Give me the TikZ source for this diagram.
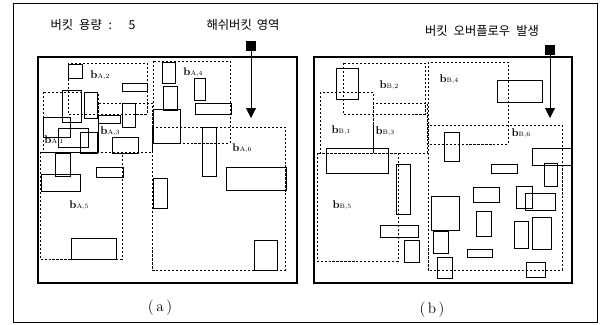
\documentclass[tikz,border=0pt]{standalone}
\usepackage{fontspec}
\newfontfamily\krfont{Noto Sans CJK KR}
\usetikzlibrary{arrows.meta}

\newcommand{\bname}[2]{\textbf{b}{\fontsize{5.5}{6}\selectfont #1,#2}}

\begin{document}
\begin{tikzpicture}[
    x=0.3mm, y=-0.3mm,
    outer/.style={draw, line width=0.7pt},
    panel/.style={draw, line width=1.4pt},
    rgn/.style={draw, line width=0.6pt, dash pattern=on 1.8pt off 1.6pt},
    blk/.style={draw, line width=0.8pt},
    lbl/.style={font=\fontsize{9.5}{10}\selectfont, inner sep=0pt},
    title/.style={font=\krfont\fontsize{10.5}{12}\selectfont, inner sep=0pt},
    caption/.style={font=\fontsize{13}{14}\selectfont, inner sep=0pt},
    marker/.style={fill=black, minimum size=3mm, inner sep=0pt},
    line/.style={-{Triangle[width=3mm,length=3mm]}, line width=0.7pt}
]
\useasboundingbox (0,0) rectangle (603,324);
\draw[outer] (13,3) rectangle (597,322);

% titles
\node[title] (cap) at (93,25) {버킷\hspace{1.8mm}용량\hspace{2mm}:\hspace{5mm}5};
\node[title] (hashtxt) at (243,25) {해쉬버킷\hspace{1.5mm}영역};
\node[title] (ovftxt) at (482,31) {버킷\hspace{1.8mm}오버플로우\hspace{1.8mm}발생};

% panel (a)
\draw[panel] (38,57) rectangle (297,283);
\draw[rgn] (68,63) rectangle (147,114);
\draw[rgn] (43,92) rectangle (98,152);
\draw[rgn] (98,103) rectangle (152,152);
\draw[rgn] (153,61) rectangle (230,143);
\draw[rgn] (40,152) rectangle (122,259);
\draw[rgn] (152,127) rectangle (285,270);

\draw[blk] (68,64) rectangle (82,78);
\draw[blk] (122,83) rectangle (147,91);
\draw[blk] (162,62) rectangle (175,83);
\draw[blk] (194,78) rectangle (205,100);
\draw[blk] (195,103) rectangle (231,114);
\draw[blk] (163,86) rectangle (177,110);
\draw[blk] (153,109) rectangle (180,143);
\draw[blk] (202,127) rectangle (216,176);
\draw[blk] (226,167) rectangle (286,190);
\draw[blk] (153,178) rectangle (167,208);
\draw[blk] (254,240) rectangle (277,270);
\draw[blk] (71,238) rectangle (116,259);
\draw[blk] (96,167) rectangle (123,177);
\draw[blk] (55,153) rectangle (70,176);
\draw[blk] (41,174) rectangle (80,191);
\draw[blk] (62,90) rectangle (81,122);
\draw[blk] (84,92) rectangle (97,118);
\draw[blk] (43,117) rectangle (70,137);
\draw[blk] (58,128) rectangle (88,147);
\draw[blk] (80,132) rectangle (97,153);
\draw[blk] (98,115) rectangle (120,123);
\draw[blk] (122,103) rectangle (135,127);
\draw[blk] (112,137) rectangle (138,153);

\node[lbl] (ba2) at (100,75) {\bname{A}{2}};
\node[lbl] (ba4) at (193,72) {\bname{A}{4}};
\node[lbl] (ba3) at (110,131) {\bname{A}{3}};
\node[lbl] (ba1) at (54,140) {\bname{A}{1}};
\node[lbl] (ba5) at (79,205) {\bname{A}{5}};
\node[lbl] (ba6) at (242,148) {\bname{A}{6}};

\node[marker] (sqa) at (251,46) {};
\coordinate (tipa) at (251,118);
\draw[line] (sqa) -- (tipa);
\node[caption] (capa) at (160,308) {(\,a\,)};

% panel (b)
\draw[panel] (314,57) rectangle (572,283);
\draw[rgn] (343,63) rectangle (425,114);
\draw[rgn] (320,92) rectangle (373,153);
\draw[rgn] (373,103) rectangle (427,153);
\draw[rgn] (428,62) rectangle (508,144);
\draw[rgn] (317,153) rectangle (398,261);
\draw[rgn] (428,125) rectangle (562,270);

\draw[blk] (336,68) rectangle (358,99);
\draw[blk] (497,80) rectangle (542,102);
\draw[blk] (326,148) rectangle (388,173);
\draw[blk] (396,164) rectangle (410,214);
\draw[blk] (444,132) rectangle (459,161);
\draw[blk] (532,148) rectangle (571,165);
\draw[blk] (544,163) rectangle (557,186);
\draw[blk] (491,164) rectangle (517,173);
\draw[blk] (473,187) rectangle (499,202);
\draw[blk] (516,186) rectangle (532,208);
\draw[blk] (525,193) rectangle (555,210);
\draw[blk] (431,196) rectangle (459,230);
\draw[blk] (476,211) rectangle (491,236);
\draw[blk] (532,217) rectangle (551,249);
\draw[blk] (514,221) rectangle (528,248);
\draw[blk] (433,231) rectangle (448,253);
\draw[blk] (467,249) rectangle (492,257);
\draw[blk] (437,257) rectangle (452,278);
\draw[blk] (526,262) rectangle (545,277);
\draw[blk] (380,225) rectangle (418,237);
\draw[blk] (404,240) rectangle (419,262);

\node[lbl] (bb2) at (389,85) {\bname{B}{2}};
\node[lbl] (bb4) at (449,79) {\bname{B}{4}};
\node[lbl] (bb1) at (341,130) {\bname{B}{1}};
\node[lbl] (bb3) at (385,131) {\bname{B}{3}};
\node[lbl] (bb6) at (521,133) {\bname{B}{6}};
\node[lbl] (bb5) at (342,205) {\bname{B}{5}};

\node[marker] (sqb) at (550,50) {};
\coordinate (tipb) at (550,118);
\draw[line] (sqb) -- (tipb);
\node[caption] (capb) at (432,310) {(\,b\,)};
\end{tikzpicture}
\end{document}
